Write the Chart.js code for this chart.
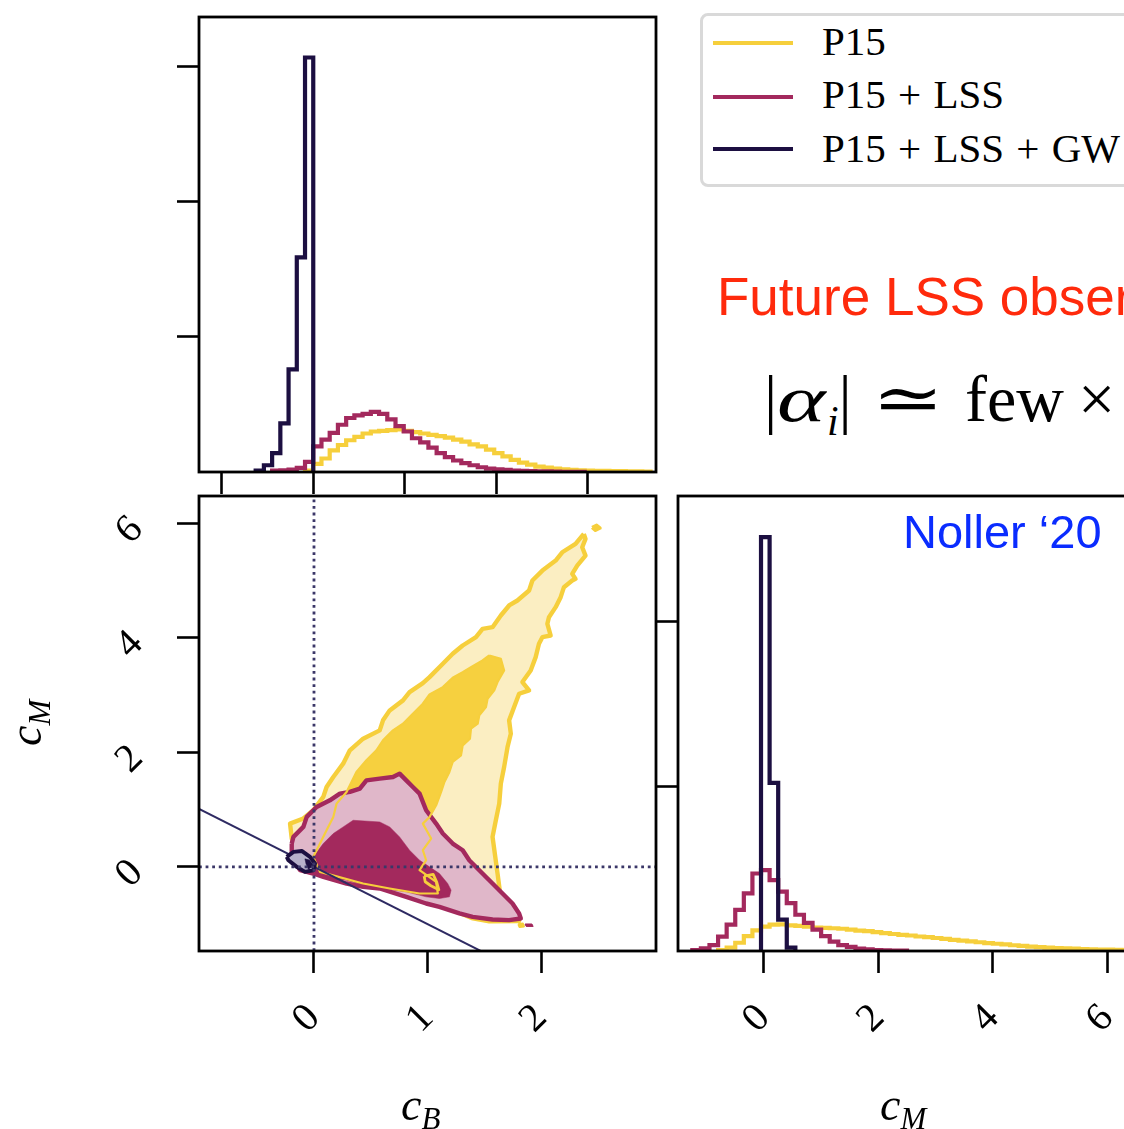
<!DOCTYPE html>
<html>
<head>
<meta charset="utf-8">
<script src="https://cdn.jsdelivr.net/npm/chart.js@4.4.1/dist/chart.umd.min.js"></script>
<style>
html, body { margin:0; padding:0; background:#fff; overflow:hidden; width:1124px; height:1129px; }
canvas { position:absolute; }
.txt { position:absolute; white-space:nowrap; line-height:1; }
.serif { font-family:"Liberation Serif", "DejaVu Serif", serif; }
.sans { font-family:"Liberation Sans", Arial, sans-serif; }
#legend { position:absolute; left:700px; top:13px; width:440px; height:168px; border:3px solid #d9d9d9; border-radius:8px; background:#fff; }
.lline { position:absolute; left:10px; width:80px; height:4px; }
.leg { font-size:41px; word-spacing:2px; }
.wide { display:inline-block; transform-origin:left center; }
</style>
</head>
<body>
<canvas id="histB" width="680" height="500" style="left:0px;top:0px"></canvas>
<canvas id="contour" width="680" height="649" style="left:0px;top:480px"></canvas>
<canvas id="histM" width="490" height="649" style="left:656px;top:480px"></canvas>

<div id="legend">
  <div class="lline" style="top:25px;background:#f6cf3c"></div>
  <div class="lline" style="top:79px;background:#a3295d"></div>
  <div class="lline" style="top:131px;background:#1c0f41"></div>
  <div class="txt serif leg" style="left:119px;top:5px">P15</div>
  <div class="txt serif leg" style="left:119px;top:58px">P15 + LSS</div>
  <div class="txt serif leg" style="left:119px;top:112px">P15 + LSS + GW</div>
</div>

<div class="txt sans" style="left:717px;top:270px;font-size:53px;color:#ff2a0c">Future LSS observations</div>
<div class="txt serif" style="left:764px;top:366px;font-size:66px">|<i class="wide" style="transform:scaleX(1.4);margin-right:15px">α</i><sub style="font-size:42px"><i>i</i></sub>|<span class="wide" style="margin-left:20px;transform:scaleX(1.3);margin-right:14px">≃</span><span style="margin-left:24px">few</span><span style="margin-left:14px">×</span></div>
<div class="txt sans" style="left:903px;top:508px;font-size:47px;color:#0a2cff">Noller ‘20</div>

<div class="txt serif" style="left:401px;top:1082px;font-size:46px"><i>c</i><i style="font-size:31px;position:relative;top:9px">B</i></div>
<div class="txt serif" style="left:880px;top:1082px;font-size:46px"><i>c</i><i style="font-size:31px;position:relative;top:9px">M</i></div>
<div class="txt serif" style="left:-5px;top:686px;font-size:46px;transform:rotate(-90deg);transform-origin:34px 26px"><i>c</i><i style="font-size:31px;position:relative;top:9px">M</i></div>

<script>
// ---- data ----
var seriesNames = ['P15', 'P15 + LSS', 'P15 + LSS + GW'];

// 1D posterior of c_B (top panel), bins of 0.09
var cbBinWidth = 0.09;
var cbStartP15 = -0.09;
var cbHistP15 = [0.01, 0.06, 0.10, 0.16, 0.20, 0.235, 0.26, 0.285, 0.30, 0.305, 0.31, 0.315, 0.305, 0.295,
                 0.285, 0.275, 0.265, 0.255, 0.24, 0.225, 0.205, 0.19, 0.165, 0.14, 0.115, 0.09, 0.07,
                 0.055, 0.04, 0.032, 0.026, 0.02, 0.016, 0.013, 0.011, 0.009, 0.008, 0.007, 0.006, 0.005,
                 0.004, 0.003];
var cbStartLSS = -0.45;
var cbHistLSS = [0.01, 0.012, 0.017, 0.03, 0.075, 0.19, 0.24, 0.29, 0.35, 0.40, 0.42, 0.43, 0.445, 0.43,
                 0.39, 0.34, 0.30, 0.25, 0.22, 0.18, 0.14, 0.11, 0.085, 0.065, 0.05, 0.035, 0.025, 0.02,
                 0.015, 0.01, 0.008, 0.006, 0.005, 0.004, 0.003, 0.002, 0.002, 0.001];
var cbStartGW = -0.63;
var cbHistGW = [0.01, 0.05, 0.14, 0.36, 0.76, 1.59, 3.07];

// 1D posterior of c_M (right panel), bins of 0.15
var cmBinWidth = 0.15;
var cmStartP15 = -0.8;
var cmHistP15 = [0.005, 0.02, 0.05, 0.09, 0.125, 0.148, 0.16, 0.162, 0.155, 0.152, 0.148, 0.142, 0.14,
                 0.138, 0.135, 0.13, 0.124, 0.12, 0.114, 0.108, 0.103, 0.098, 0.094, 0.088, 0.084, 0.079,
                 0.074, 0.068, 0.063, 0.058, 0.053, 0.048, 0.044, 0.04, 0.035, 0.031, 0.027, 0.024, 0.021,
                 0.018, 0.016, 0.014, 0.012, 0.01, 0.009, 0.008, 0.007, 0.006, 0.005];
var cmStartLSS = -1.25;
var cmHistLSS = [0.006, 0.016, 0.036, 0.087, 0.16, 0.25, 0.35, 0.47, 0.49, 0.43, 0.36, 0.29, 0.22, 0.17,
                 0.13, 0.09, 0.057, 0.036, 0.025, 0.015, 0.01, 0.006, 0.004, 0.003, 0.002];
var cmStartGW = -0.05;
var cmHistGW = [2.51, 1.02, 0.19, 0.02];

// 2D contours, [c_B, c_M] vertices
var p15Outer = [[2.377,5.817],[2.304,5.643],[2.187,5.497],[2.129,5.352],[2.012,5.177],[1.924,5.003],
  [1.895,4.828],[1.792,4.654],[1.719,4.567],[1.646,4.392],[1.573,4.188],[1.485,4.159],[1.427,4.014],
  [1.310,3.868],[1.222,3.723],[1.135,3.549],[1.018,3.316],[0.959,3.211],[0.842,3.054],[0.784,2.909],
  [0.667,2.734],[0.608,2.560],[0.579,2.385],[0.433,2.240],[0.316,2.036],[0.257,1.803],[0.170,1.571],
  [0.111,1.396],[0.082,1.222],[-0.006,0.989],[-0.094,0.844],[-0.211,0.756],[-0.196,0.494],
  [-0.123,0.175],[0.082,-0.10],[0.520,-0.33],[0.959,-0.58],[1.251,-0.78],[1.40,-0.90],[1.544,-0.95],
  [1.807,-0.945],[1.719,-0.756],[1.646,-0.553],[1.617,-0.116],[1.573,0.524],[1.602,0.814],
  [1.632,1.105],[1.646,1.454],[1.675,1.745],[1.705,2.094],[1.734,2.327],[1.719,2.560],[1.763,2.792],
  [1.807,3.025],[1.895,3.083],[1.836,3.229],[1.909,3.432],[1.953,3.665],[1.982,3.898],[2.012,4.014],
  [2.085,4.043],[2.056,4.247],[2.070,4.363],[2.129,4.538],[2.173,4.712],[2.202,4.887],[2.275,5.003],
  [2.304,5.032],[2.275,5.119],[2.319,5.265],[2.392,5.439],[2.363,5.585],[2.392,5.730]];
var p15Inner = [[1.544,3.694],[1.646,3.636],[1.675,3.432],[1.617,3.229],[1.588,3.083],[1.529,2.938],
  [1.515,2.792],[1.456,2.647],[1.442,2.501],[1.383,2.414],[1.374,2.240],[1.310,2.123],[1.295,1.949],
  [1.222,1.833],[1.193,1.658],[1.149,1.483],[1.120,1.309],[1.076,1.076],[1.018,0.872],[0.959,0.756],
  [1.032,0.495],[0.959,0.291],[0.988,0.116],[0.930,-0.058],[1.076,-0.262],[1.091,-0.465],
  [0.930,-0.465],[0.667,-0.378],[0.433,-0.291],[0.053,-0.087],[-0.006,0.175],[0.053,0.407],
  [0.111,0.640],[0.170,0.873],[0.199,1.105],[0.287,1.309],[0.374,1.658],[0.462,1.862],[0.550,2.036],
  [0.608,2.211],[0.696,2.385],[0.784,2.501],[0.871,2.676],[0.959,2.850],[1.018,3.013],[1.135,3.141],
  [1.222,3.304],[1.310,3.403],[1.383,3.490],[1.485,3.607]];
var p15Islands = [
  [[2.45,5.93],[2.49,5.97],[2.52,5.92],[2.48,5.88]],
  [[1.80,-1.00],[1.84,-0.99],[1.85,-1.04],[1.81,-1.05]],
  [[0.97,-0.16],[1.05,-0.13],[1.08,-0.26],[1.10,-0.40],[1.03,-0.33],[0.98,-0.26]]];
var lssOuter = [[-0.196,0.407],[-0.181,0.524],[-0.094,0.698],[-0.064,0.873],[0.023,1.047],[0.140,1.163],
  [0.228,1.280],[0.316,1.309],[0.404,1.367],[0.462,1.512],[0.579,1.542],[0.696,1.571],[0.754,1.629],
  [0.813,1.512],[0.871,1.396],[0.930,1.280],[0.988,0.989],[1.076,0.756],[1.135,0.582],[1.222,0.407],
  [1.310,0.291],[1.368,0.116],[1.456,-0.058],[1.573,-0.291],[1.661,-0.465],[1.749,-0.640],
  [1.807,-0.814],[1.822,-0.902],[1.719,-0.931],[1.573,-0.919],[1.398,-0.873],[1.281,-0.814],
  [1.105,-0.698],[0.988,-0.640],[0.813,-0.524],[0.579,-0.378],[0.433,-0.349],[0.287,-0.291],
  [0.082,-0.175],[-0.006,-0.116],[-0.123,-0.058],[-0.196,0.175]];
var lssInner = [[0.345,0.814],[0.579,0.785],[0.667,0.698],[0.754,0.524],[0.842,0.291],[0.930,0.116],
  [1.018,0.000],[1.105,-0.116],[1.178,-0.291],[1.208,-0.407],[1.193,-0.524],[1.105,-0.553],
  [0.988,-0.524],[0.813,-0.436],[0.579,-0.378],[0.433,-0.320],[0.287,-0.233],[0.140,-0.204],
  [0.023,-0.116],[-0.035,0.000],[-0.006,0.175],[0.082,0.407],[0.170,0.582],[0.257,0.698]];
var lssIsland = [[1.86,-1.00],[1.92,-1.00],[1.93,-1.04],[1.87,-1.04]];
var gwOuter = [[-0.240,0.175],[-0.181,0.262],[-0.108,0.279],[-0.035,0.175],[0.009,0.058],
  [-0.006,-0.058],[-0.079,-0.087],[-0.152,0.000],[-0.225,0.116]];
var gwInner = [[-0.08,0.14],[-0.04,0.12],[0.0,0.02],[-0.05,-0.04],[-0.07,0.05]];
// reference line c_M = -c_B
var diagLine = [[-1.1, 1.1], [1.5, -1.5]];

// axis ranges and ticks
var cbRangeTop = [-1.25, 3.75];
var cbTicksTop = [-1, 0, 1, 2, 3];
var densRangeTop = [0, 3.37];
var densTicksTop = [1, 2, 3];
var cbRange = [-1.013, 3.013];
var cbTicks = [0, 1, 2];
var cmRange = [-1.47, 6.48];
var cmTicks = [0, 2, 4, 6];
var cmRangeRight = [-1.5, 6.5];
var densRangeRight = [0, 2.76];
var densTicksRight = [1, 2];

// ---- styling ----
var cYellow = '#f6cf3c', cYellowFill = '#fbeec2', cYellowDark = '#f6d03f';
var cMag = '#a3295d', cMagFill = '#e0b7c9';
var cNavy = '#1c0f41', cNavyFill = '#b7b1ca';
var tickFont = { family: 'Liberation Serif', size: 40 };

Chart.defaults.animation = false;
Chart.defaults.events = [];
Chart.defaults.plugins.legend.display = false;
Chart.defaults.plugins.tooltip.enabled = false;
Chart.defaults.elements.point.radius = 0;
Chart.defaults.elements.line.tension = 0;

function stepPoints(start, width, vals) {
  var pts = [{x: start, y: 0}];
  for (var i = 0; i < vals.length; i++) {
    pts.push({x: start + i * width, y: vals[i]});
  }
  pts.push({x: start + vals.length * width, y: 0});
  return pts;
}

function closed(pairs) {
  var pts = pairs.map(function(p) { return {x: p[0], y: p[1]}; });
  pts.push({x: pairs[0][0], y: pairs[0][1]});
  return pts;
}

function fixedTicks(list) {
  return function(scale) { scale.ticks = list.map(function(v) { return {value: v}; }); };
}

// force the axis box size and drop the label overhang padding
function boxSize(w, h) {
  return function(s) {
    if (w !== null) s.width = w;
    if (h !== null) s.height = h;
    s.paddingTop = 0; s.paddingBottom = 0; s.paddingLeft = 0; s.paddingRight = 0;
  };
}

function tickGrid() {
  return { display: true, drawOnChartArea: false, drawTicks: true, tickLength: 22, tickWidth: 2.6, tickColor: '#000' };
}

var framePlugin = {
  id: 'frame',
  afterDatasetsDraw: function(chart) {
    var a = chart.chartArea, ctx = chart.ctx;
    ctx.save();
    ctx.lineWidth = 2.8;
    ctx.strokeStyle = '#000';
    ctx.strokeRect(a.left, a.top, a.right - a.left, a.bottom - a.top);
    ctx.restore();
  }
};

function histSet(points, color, order) {
  return { data: points, borderColor: color, borderWidth: 4.2, stepped: true, fill: false,
           borderJoinStyle: 'miter', order: order };
}

// top panel: c_B histogram
new Chart(document.getElementById('histB'), {
  type: 'line',
  data: { datasets: [
    histSet(stepPoints(cbStartP15, cbBinWidth, cbHistP15), cYellow, 3),
    histSet(stepPoints(cbStartLSS, cbBinWidth, cbHistLSS), cMag, 2),
    histSet(stepPoints(cbStartGW, cbBinWidth, cbHistGW), cNavy, 1)
  ]},
  options: {
    responsive: false, devicePixelRatio: 1,
    layout: { padding: { top: 17, right: 24, left: 0, bottom: 0 } },
    scales: {
      x: { type: 'linear', min: cbRangeTop[0], max: cbRangeTop[1], afterBuildTicks: fixedTicks(cbTicksTop),
           grid: tickGrid(), border: { display: false }, ticks: { display: false },
           afterFit: boxSize(null, 28) },
      y: { type: 'linear', min: densRangeTop[0], max: densRangeTop[1], afterBuildTicks: fixedTicks(densTicksTop),
           grid: tickGrid(), border: { display: false }, ticks: { display: false },
           afterFit: boxSize(199, null) }
    }
  },
  plugins: [framePlugin]
});

// 2D panel: each contour is a filled shape plus a separate outline drawn just above it
var contourSets = [];
function poly(pairs, fillColor, lineColor, width, order) {
  if (fillColor) {
    contourSets.push({ data: closed(pairs), backgroundColor: fillColor, borderColor: fillColor, borderWidth: 0.5,
                       fill: 'shape', order: order + 0.5 });
  }
  if (lineColor) {
    contourSets.push({ data: closed(pairs), borderColor: lineColor, borderWidth: width, fill: false,
                       order: order, borderJoinStyle: 'round' });
  }
}

poly(p15Outer, cYellowFill, cYellow, 4.4, 30);
poly(p15Islands[0], cYellowFill, cYellow, 3.4, 29);
poly(p15Inner, cYellowDark, null, 0, 28);
poly(lssOuter, cMagFill, cMag, 4.4, 25);
poly(lssInner, cMag, null, 0, 24);
poly(p15Inner, null, cYellow, 2.2, 22);
poly(p15Islands[1], cYellow, cYellow, 2, 21);
poly(p15Islands[2], null, cYellow, 2.8, 21);
poly(lssIsland, cMag, cMag, 1, 21);
contourSets.push({ data: diagLine.map(function(p) { return {x: p[0], y: p[1]}; }), borderColor: '#2e2a62',
                   borderWidth: 2, fill: false, order: 12 });
poly(gwOuter, cNavyFill, cNavy, 4, 10);
poly(gwInner, cNavy, null, 0, 9);
contourSets.push({ data: [{x: 0, y: cmRange[0]}, {x: 0, y: cmRange[1]}], borderColor: '#3b3768', borderWidth: 2.8,
                   borderDash: [2.8, 3.8], fill: false, order: 2 });
contourSets.push({ data: [{x: cbRange[0], y: 0}, {x: cbRange[1], y: 0}], borderColor: '#3b3768', borderWidth: 2.8,
                   borderDash: [2.8, 3.8], fill: false, order: 2 });

new Chart(document.getElementById('contour'), {
  type: 'line',
  data: { datasets: contourSets },
  options: {
    responsive: false, devicePixelRatio: 1,
    layout: { padding: { top: 16, right: 24, left: 0, bottom: 0 } },
    scales: {
      x: { type: 'linear', min: cbRange[0], max: cbRange[1], afterBuildTicks: fixedTicks(cbTicks),
           grid: tickGrid(), border: { display: false },
           ticks: { font: tickFont, color: '#000', minRotation: 45, maxRotation: 45, padding: 22 },
           afterFit: boxSize(null, 178) },
      y: { type: 'linear', min: cmRange[0], max: cmRange[1], afterBuildTicks: fixedTicks(cmTicks),
           grid: tickGrid(), border: { display: false },
           ticks: { font: tickFont, color: '#000', minRotation: 45, maxRotation: 45, padding: 40 },
           afterFit: boxSize(199, null) }
    }
  },
  plugins: [framePlugin]
});

// right panel: c_M histogram
new Chart(document.getElementById('histM'), {
  type: 'line',
  data: { datasets: [
    histSet(stepPoints(cmStartP15, cmBinWidth, cmHistP15), cYellow, 3),
    histSet(stepPoints(cmStartLSS, cmBinWidth, cmHistLSS), cMag, 2),
    histSet(stepPoints(cmStartGW, cmBinWidth, cmHistGW), cNavy, 1)
  ]},
  options: {
    responsive: false, devicePixelRatio: 1,
    layout: { padding: { top: 16, right: 10, left: 0, bottom: 0 } },
    scales: {
      x: { type: 'linear', min: cmRangeRight[0], max: cmRangeRight[1], afterBuildTicks: fixedTicks(cmTicks),
           grid: tickGrid(), border: { display: false },
           ticks: { font: tickFont, color: '#000', minRotation: 45, maxRotation: 45, padding: 22 },
           afterFit: boxSize(null, 178) },
      y: { type: 'linear', min: densRangeRight[0], max: densRangeRight[1], afterBuildTicks: fixedTicks(densTicksRight),
           grid: tickGrid(), border: { display: false }, ticks: { display: false },
           afterFit: boxSize(22, null) }
    }
  },
  plugins: [framePlugin]
});
</script>
</body>
</html>
